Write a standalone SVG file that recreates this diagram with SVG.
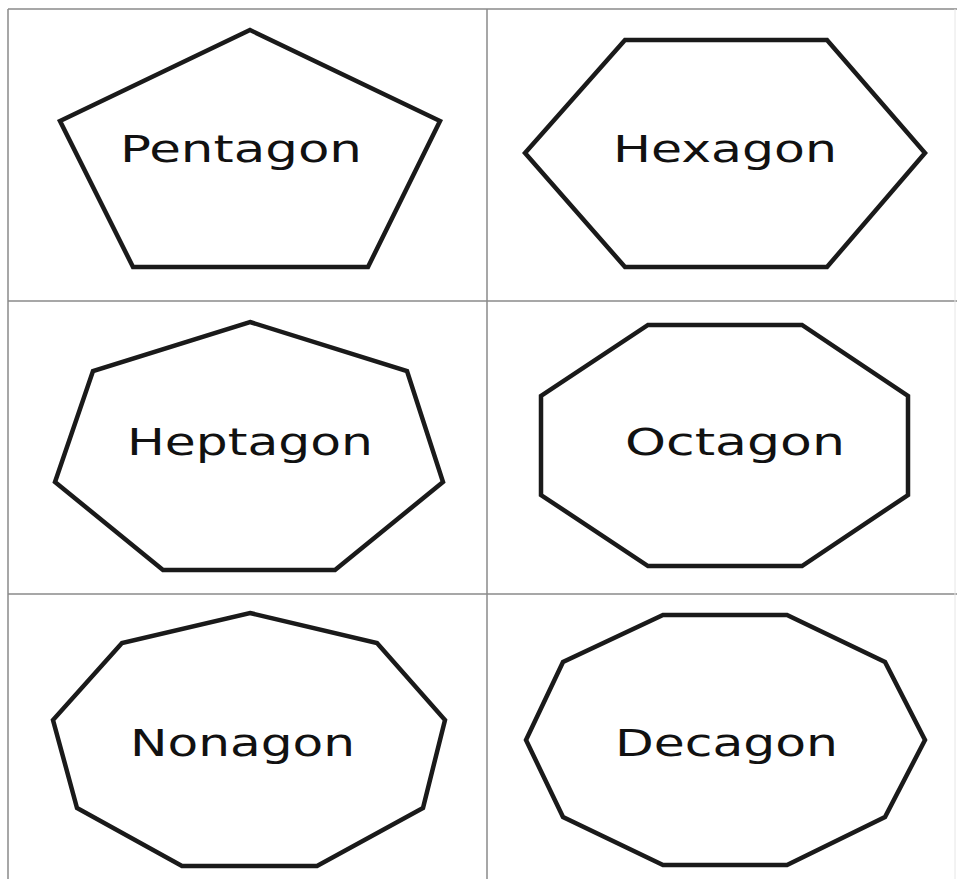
<svg xmlns="http://www.w3.org/2000/svg" width="959" height="879" viewBox="0 0 959 879">
  <style>
    .grid { stroke: #8a8a8a; stroke-width: 1.5; fill: none; }
    .shape { fill: #ffffff; stroke: #1a1a1a; stroke-width: 4.5; stroke-linejoin: miter; }
    .label { font-family: "DejaVu Sans", "Liberation Sans", sans-serif; font-size: 38px; fill: #111111; }
  </style>
  <rect width="959" height="879" fill="#ffffff"/>
  <g id="grid">
    <line class="grid" x1="8" y1="9" x2="957" y2="9"/>
    <line class="grid" x1="8" y1="9" x2="8" y2="879"/>
    <line class="grid" x1="487" y1="9" x2="487" y2="879"/>
    <line class="grid" x1="8" y1="301" x2="957" y2="301"/>
    <line class="grid" x1="8" y1="594" x2="957" y2="594"/>
    <line x1="955" y1="9" x2="955" y2="879" stroke="#e6e6e6" stroke-width="1"/>
  </g>
  <g id="pentagon">
    <polygon class="shape" points="250,30 440,121 368,267 133,267 60,121"/>
    <text class="label" x="120" y="162" textLength="242" lengthAdjust="spacingAndGlyphs">Pentagon</text>
  </g>
  <g id="hexagon">
    <polygon class="shape" points="625,40 827,40 925,153 827,267 625,267 525,153"/>
    <text class="label" x="613" y="162" textLength="224" lengthAdjust="spacingAndGlyphs">Hexagon</text>
  </g>
  <g id="heptagon">
    <polygon class="shape" points="250,322 407,371 443,482 335,570 163,570 55,482 93,371"/>
    <text class="label" x="127" y="455" textLength="246" lengthAdjust="spacingAndGlyphs">Heptagon</text>
  </g>
  <g id="octagon">
    <polygon class="shape" points="648,325 802,325 908,396 908,495 802,566 648,566 541,495 541,396"/>
    <text class="label" x="625" y="455" textLength="220" lengthAdjust="spacingAndGlyphs">Octagon</text>
  </g>
  <g id="nonagon">
    <polygon class="shape" points="250,613 377,643 445,720 423,808 317,866 182,866 77,808 53,720 122,643"/>
    <text class="label" x="130" y="756" textLength="225" lengthAdjust="spacingAndGlyphs">Nonagon</text>
  </g>
  <g id="decagon">
    <polygon class="shape" points="663,615 787,615 885,662 925,740 885,817 787,865 663,865 563,817 526,740 563,662"/>
    <text class="label" x="615" y="756" textLength="223" lengthAdjust="spacingAndGlyphs">Decagon</text>
  </g>
</svg>
